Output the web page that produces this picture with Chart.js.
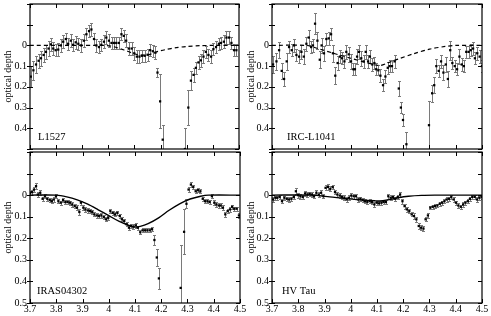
<!DOCTYPE html>
<html>
<head>
<meta charset="utf-8">
<script src="https://cdn.jsdelivr.net/npm/chart.js@4.4.1/dist/chart.umd.min.js"></script>
<style>
  html, body { margin: 0; padding: 0; background: #fff; }
  body { width: 491px; height: 316px; position: relative; overflow: hidden; }
  canvas { position: absolute; }
</style>
</head>
<body>
<canvas id="tl" width="243" height="153" style="left:0;top:0"></canvas>
<canvas id="tr" width="248" height="153" style="left:243px;top:0"></canvas>
<canvas id="bl" width="252" height="171" style="left:0;top:145px"></canvas>
<canvas id="br" width="248" height="171" style="left:243px;top:145px"></canvas>
<script>
// [wavelength (micron), optical depth, error]
const l1527 = [
  [3.703,0.151,0.05],[3.713,0.120,0.045],[3.723,0.092,0.04],[3.733,0.074,0.035],[3.742,0.062,0.035],
  [3.752,0.046,0.035],[3.761,0.031,0.035],[3.771,0.015,0.035],[3.780,-0.005,0.03],[3.789,0.015,0.03],
  [3.798,0.023,0.03],[3.808,0.020,0.03],[3.818,0.000,0.03],[3.827,-0.018,0.03],[3.837,-0.031,0.03],
  [3.846,-0.008,0.03],[3.856,-0.023,0.03],[3.865,-0.003,0.03],[3.875,-0.015,0.03],[3.885,-0.008,0.03],
  [3.896,0.000,0.03],[3.906,-0.023,0.03],[3.916,-0.054,0.03],[3.926,-0.069,0.03],[3.935,-0.077,0.03],
  [3.945,-0.031,0.03],[3.954,0.000,0.03],[3.964,0.008,0.03],[3.973,-0.003,0.03],[3.983,-0.018,0.03],
  [3.992,-0.038,0.03],[4.002,-0.023,0.03],[4.012,-0.012,0.03],[4.021,-0.012,0.03],[4.030,-0.012,0.03],
  [4.040,-0.012,0.03],[4.050,-0.054,0.03],[4.059,-0.046,0.03],[4.068,-0.023,0.03],[4.078,0.015,0.03],
  [4.089,0.015,0.03],[4.099,0.038,0.03],[4.109,0.054,0.03],[4.119,0.054,0.03],[4.129,0.050,0.03],
  [4.139,0.050,0.03],[4.150,0.045,0.03],[4.160,0.023,0.03],[4.170,0.028,0.03],[4.180,0.035,0.03],
  [4.188,0.131,0.02],[4.198,0.270,0.13],[4.208,0.455,0.07],
  [4.293,0.500,0.1],[4.306,0.300,0.085],[4.316,0.170,0.045],[4.326,0.142,0.035],[4.335,0.108,0.03],
  [4.345,0.082,0.03],[4.354,0.072,0.03],[4.364,0.054,0.03],[4.373,0.031,0.03],[4.383,0.046,0.03],
  [4.393,0.054,0.03],[4.402,0.018,0.03],[4.412,0.008,0.03],[4.423,-0.008,0.03],[4.431,-0.012,0.03],
  [4.442,-0.018,0.03],[4.452,-0.038,0.03],[4.462,-0.038,0.03],[4.471,-0.012,0.03],[4.481,0.023,0.03],
  [4.490,0.023,0.03]
];
const l1527Model = [
  [3.70,0],[3.98,0],[4.02,0.006],[4.06,0.022],[4.09,0.036],[4.12,0.046],[4.15,0.046],[4.175,0.036],
  [4.19,0.029],[4.22,0.020],[4.26,0.011],[4.30,0.005],[4.35,0.001],[4.40,0],[4.50,0]
];

const irc1041 = [
  [3.704,0.092,0.04],[3.717,0.077,0.04],[3.727,0.023,0.04],[3.737,0.123,0.04],[3.746,0.162,0.035],
  [3.756,0.077,0.04],[3.765,0.008,0.03],[3.775,0.023,0.03],[3.784,0.000,0.03],[3.793,0.046,0.03],
  [3.803,0.054,0.03],[3.812,0.031,0.035],[3.821,0.054,0.035],[3.831,-0.008,0.035],[3.840,-0.038,0.035],
  [3.849,0.008,0.03],[3.856,0.000,0.03],[3.864,-0.105,0.05],[3.873,-0.023,0.04],[3.882,0.069,0.04],
  [3.889,0.000,0.035],[3.898,0.038,0.035],[3.907,-0.031,0.03],[3.916,-0.034,0.03],[3.925,-0.054,0.03],
  [3.932,0.038,0.04],[3.941,0.146,0.04],[3.950,0.085,0.035],[3.959,0.054,0.03],[3.967,0.062,0.03],
  [3.976,0.077,0.03],[3.983,0.031,0.035],[3.992,0.043,0.035],[4.001,0.077,0.035],[4.010,0.115,0.03],
  [4.016,0.115,0.03],[4.024,0.054,0.035],[4.031,0.031,0.035],[4.040,0.062,0.035],[4.049,0.077,0.03],
  [4.057,0.031,0.035],[4.066,0.077,0.03],[4.073,0.054,0.03],[4.082,0.092,0.03],[4.090,0.085,0.03],
  [4.097,0.115,0.03],[4.105,0.120,0.025],[4.113,0.146,0.03],[4.123,0.192,0.03],[4.132,0.150,0.03],
  [4.141,0.108,0.03],[4.148,0.100,0.03],[4.157,0.100,0.03],[4.167,0.077,0.03],[4.183,0.208,0.035],
  [4.191,0.300,0.025],[4.199,0.360,0.03],[4.212,0.477,0.06],
  [4.298,0.385,0.115],[4.310,0.231,0.04],[4.318,0.192,0.04],[4.326,0.100,0.035],[4.335,0.123,0.03],
  [4.344,0.077,0.03],[4.353,0.131,0.035],[4.362,0.092,0.035],[4.370,0.162,0.04],[4.379,0.023,0.045],
  [4.387,0.085,0.03],[4.396,0.100,0.03],[4.405,0.115,0.03],[4.414,0.054,0.035],[4.423,0.092,0.03],
  [4.431,0.100,0.03],[4.440,0.031,0.03],[4.449,0.031,0.03],[4.457,0.023,0.03],[4.466,0.015,0.03],
  [4.473,0.062,0.03],[4.482,0.038,0.03],[4.491,0.054,0.03],[4.500,0.100,0.03]
];
const irc1041Model = [
  [3.70,0],[3.83,0],[3.88,0.017],[3.94,0.040],[4.00,0.062],[4.06,0.083],[4.11,0.097],[4.14,0.085],
  [4.18,0.066],[4.24,0.040],[4.30,0.018],[4.36,0.005],[4.40,0],[4.50,0]
];

const iras04302 = [
  [3.700,-0.011,0.01],[3.708,-0.014,0.012],[3.715,-0.026,0.012],[3.723,-0.042,0.012],[3.730,-0.003,0.012],
  [3.739,-0.011,0.012],[3.748,0.017,0.01],[3.757,0.005,0.01],[3.766,0.017,0.01],[3.775,0.023,0.01],
  [3.783,0.028,0.01],[3.790,0.020,0.01],[3.799,0.005,0.01],[3.808,0.028,0.01],[3.817,0.035,0.01],
  [3.826,0.023,0.01],[3.835,0.032,0.01],[3.843,0.032,0.01],[3.852,0.035,0.01],[3.861,0.043,0.01],
  [3.870,0.051,0.01],[3.879,0.058,0.01],[3.888,0.078,0.015],[3.894,0.035,0.01],[3.903,0.058,0.01],
  [3.911,0.066,0.01],[3.920,0.071,0.01],[3.929,0.074,0.01],[3.937,0.078,0.01],[3.945,0.089,0.01],
  [3.954,0.094,0.01],[3.963,0.097,0.01],[3.972,0.094,0.01],[3.981,0.102,0.01],[3.990,0.112,0.01],
  [3.998,0.105,0.01],[4.006,0.074,0.01],[4.015,0.082,0.01],[4.024,0.089,0.01],[4.033,0.082,0.01],
  [4.042,0.097,0.01],[4.050,0.112,0.01],[4.059,0.120,0.01],[4.068,0.135,0.01],[4.077,0.151,0.01],
  [4.085,0.143,0.01],[4.094,0.146,0.01],[4.103,0.140,0.01],[4.111,0.151,0.01],[4.120,0.172,0.01],
  [4.129,0.163,0.01],[4.138,0.163,0.01],[4.147,0.163,0.01],[4.156,0.163,0.01],[4.165,0.158,0.01],
  [4.174,0.208,0.025],[4.183,0.289,0.04],[4.191,0.386,0.05],
  [4.274,0.430,0.2],[4.287,0.170,0.105],[4.296,0.040,0.02],[4.304,-0.026,0.012],[4.313,-0.049,0.012],
  [4.322,-0.038,0.01],[4.331,-0.018,0.01],[4.340,-0.023,0.01],[4.349,-0.018,0.01],[4.358,0.017,0.01],
  [4.367,0.028,0.01],[4.376,0.028,0.01],[4.384,0.032,0.01],[4.393,0.005,0.01],[4.402,0.035,0.012],
  [4.410,0.043,0.01],[4.419,0.048,0.01],[4.426,0.048,0.01],[4.435,0.058,0.01],[4.444,0.089,0.012],
  [4.453,0.074,0.01],[4.462,0.066,0.01],[4.470,0.054,0.01],[4.478,0.063,0.01],[4.487,0.063,0.01],
  [4.496,0.094,0.012]
];
const iras04302Model = [
  [3.70,0],[3.80,0],[3.84,0.008],[3.88,0.022],[3.92,0.042],[3.96,0.068],[4.00,0.095],[4.04,0.122],
  [4.08,0.142],[4.10,0.148],[4.12,0.145],[4.15,0.132],[4.19,0.105],[4.23,0.070],[4.27,0.040],
  [4.31,0.018],[4.35,0.005],[4.38,0],[4.50,0]
];

const hvTau = [
  [3.704,0.020,0.012],[3.713,0.012,0.01],[3.720,0.012,0.01],[3.729,0.009,0.01],[3.738,0.028,0.01],
  [3.747,0.012,0.01],[3.756,0.017,0.01],[3.765,0.020,0.01],[3.774,0.017,0.01],[3.783,0.009,0.01],
  [3.791,-0.018,0.015],[3.799,0.000,0.012],[3.808,0.005,0.012],[3.817,0.009,0.01],[3.826,-0.008,0.01],
  [3.835,-0.003,0.01],[3.843,-0.006,0.01],[3.852,-0.003,0.012],[3.860,0.005,0.01],[3.869,-0.011,0.012],
  [3.878,-0.003,0.01],[3.887,-0.011,0.012],[3.896,0.005,0.01],[3.904,-0.034,0.012],[3.913,-0.038,0.012],
  [3.922,-0.029,0.012],[3.931,-0.037,0.01],[3.940,-0.014,0.01],[3.949,-0.003,0.01],[3.958,0.002,0.01],
  [3.967,0.008,0.01],[3.976,0.012,0.012],[3.984,0.020,0.01],[3.993,0.012,0.012],[4.002,0.002,0.012],
  [4.011,0.005,0.012],[4.020,0.005,0.012],[4.029,0.020,0.01],[4.037,0.017,0.01],[4.045,0.023,0.01],
  [4.054,0.028,0.01],[4.063,0.031,0.01],[4.072,0.028,0.01],[4.081,0.032,0.01],[4.090,0.043,0.01],
  [4.099,0.035,0.01],[4.108,0.038,0.01],[4.117,0.035,0.01],[4.125,0.032,0.01],[4.134,0.032,0.01],
  [4.143,0.005,0.012],[4.152,0.012,0.012],[4.161,0.009,0.01],[4.170,0.017,0.01],[4.179,0.009,0.01],
  [4.188,-0.003,0.01],[4.197,0.028,0.012],[4.205,0.051,0.012],[4.214,0.066,0.012],[4.223,0.074,0.01],
  [4.232,0.089,0.01],[4.241,0.097,0.012],[4.250,0.112,0.012],[4.259,0.143,0.012],[4.268,0.151,0.012],
  [4.277,0.155,0.012],[4.285,0.112,0.01],[4.294,0.094,0.01],[4.303,0.058,0.008],[4.312,0.054,0.008],
  [4.321,0.051,0.008],[4.330,0.048,0.008],[4.339,0.040,0.01],[4.348,0.035,0.01],[4.357,0.028,0.01],
  [4.365,0.020,0.01],[4.374,0.017,0.01],[4.383,0.009,0.01],[4.392,0.020,0.01],[4.401,0.035,0.01],
  [4.410,0.048,0.01],[4.419,0.054,0.01],[4.428,0.043,0.01],[4.437,0.035,0.01],[4.446,0.028,0.01],
  [4.454,0.017,0.01],[4.463,0.008,0.01],[4.472,0.008,0.01],[4.481,0.020,0.01],[4.490,0.012,0.01],
  [4.499,0.009,0.01]
];
const hvTauModel = [
  [3.70,0],[3.85,0],[3.92,0.008],[3.98,0.016],[4.04,0.022],[4.09,0.026],[4.11,0.027],[4.14,0.022],
  [4.18,0.012],[4.22,0.005],[4.27,0.001],[4.32,0],[4.50,0]
];

const FONT = "'Liberation Serif', 'Times New Roman', serif";
Chart.defaults.font.family = FONT;
Chart.defaults.font.size = 10;
Chart.defaults.color = "#000";

// vertical error bars with small caps, drawn under the points
const errorBars = {
  id: "errorBars",
  beforeDatasetsDraw(chart) {
    const { ctx, chartArea: a, scales: { x, y } } = chart;
    ctx.save();
    ctx.beginPath();
    ctx.rect(a.left, a.top, a.width, a.height);
    ctx.clip();
    ctx.strokeStyle = "#7a7a7a";
    ctx.lineWidth = 1;
    chart.data.datasets.forEach(ds => {
      if (!ds.errors) return;
      ds.data.forEach((p, i) => {
        const px = Math.round(x.getPixelForValue(p.x)) + 0.5;
        const y1 = Math.round(y.getPixelForValue(p.y - ds.errors[i])) + 0.5;
        const y2 = Math.round(y.getPixelForValue(p.y + ds.errors[i])) + 0.5;
        ctx.beginPath();
        ctx.moveTo(px, y1); ctx.lineTo(px, y2);
        ctx.moveTo(px - 1.5, y1); ctx.lineTo(px + 1.5, y1);
        ctx.moveTo(px - 1.5, y2); ctx.lineTo(px + 1.5, y2);
        ctx.stroke();
      });
    });
    ctx.restore();
  }
};

// box around the plot, ticks on all four sides, source name
const panelFrame = {
  id: "panelFrame",
  afterDraw(chart, args, opts) {
    const { ctx, chartArea: a, scales: { x, y } } = chart;
    ctx.save();
    ctx.strokeStyle = "#000";
    ctx.lineWidth = 1.2;
    ctx.strokeRect(a.left, a.top, a.width, a.height);
    ctx.lineWidth = 1;
    ctx.beginPath();
    x.ticks.forEach(t => {
      const px = Math.round(x.getPixelForValue(t.value)) + 0.5;
      ctx.moveTo(px, a.top); ctx.lineTo(px, a.top + 4);
      ctx.moveTo(px, a.bottom); ctx.lineTo(px, a.bottom - 4);
    });
    y.ticks.forEach(t => {
      const py = Math.round(y.getPixelForValue(t.value)) + 0.5;
      ctx.moveTo(a.left - 3, py); ctx.lineTo(a.left + 3, py);
      ctx.moveTo(a.right, py); ctx.lineTo(a.right - 4, py);
    });
    ctx.stroke();
    ctx.fillStyle = "#000";
    ctx.font = "10.5px " + FONT;
    ctx.textBaseline = "middle";
    ctx.fillText(opts.name, a.left + opts.dx, a.bottom - 12);
    ctx.restore();
  }
};

function makePanel(id, points, model, opts) {
  const ctx = document.getElementById(id);
  return new Chart(ctx, {
    type: "scatter",
    data: {
      datasets: [{
        data: points.map(p => ({ x: p[0], y: p[1] })),
        errors: points.map(p => p[2]),
        pointStyle: "rect",
        pointRadius: 1.6,
        pointBorderWidth: 0,
        backgroundColor: "#000",
        showLine: false
      }, {
        type: "line",
        data: model.map(p => ({ x: p[0], y: p[1] })),
        borderColor: "#000",
        borderWidth: opts.dashed ? 1.2 : 1.4,
        borderDash: opts.dashed ? [4, 3] : [],
        pointRadius: 0,
        tension: 0.3,
        fill: false
      }]
    },
    options: {
      responsive: false,
      animation: false,
      events: [],
      layout: { padding: opts.padding },
      plugins: {
        legend: { display: false },
        tooltip: { enabled: false },
        panelFrame: { name: opts.name, dx: opts.dx }
      },
      scales: {
        x: {
          type: "linear",
          min: 3.7,
          max: 4.5,
          grid: { display: false, drawTicks: false },
          border: { display: false },
          ticks: {
            display: opts.showX,
            stepSize: 0.1,
            autoSkip: false,
            maxRotation: 0,
            padding: 0,
            callback: v => String(Math.round(v * 10) / 10)
          },
          afterFit: s => {
            s.height = opts.showX ? 13 : 0;
            s.paddingLeft = s.paddingRight = 0;
          }
        },
        y: {
          min: -0.2,
          max: 0.5,
          reverse: true,
          grid: { display: false, drawTicks: false },
          border: { display: false },
          title: { display: true, text: "optical depth", padding: { top: 2, bottom: 0 }, font: { size: 10 } },
          ticks: {
            stepSize: 0.1,
            autoSkip: false,
            padding: 3,
            callback: v => {
              const r = Math.round(v * 10) / 10;
              return (r < 0 || r > opts.maxLabel) ? "" : String(r);
            }
          },
          afterFit: s => {
            s.width = opts.yWidth;
            s.paddingTop = s.paddingBottom = 0;
          }
        }
      }
    },
    plugins: [errorBars, panelFrame]
  });
}

makePanel("tl", l1527, l1527Model, {
  name: "L1527", dx: 8, dashed: true, showX: false, maxLabel: 0.4, yWidth: 30,
  padding: { top: 1, right: 3, bottom: 1, left: 0 }
});
makePanel("tr", irc1041, irc1041Model, {
  name: "IRC-L1041", dx: 15, dashed: true, showX: false, maxLabel: 0.4, yWidth: 29,
  padding: { top: 1, right: 9, bottom: 1, left: 0 }
});
makePanel("bl", iras04302, iras04302Model, {
  name: "IRAS04302", dx: 7, dashed: false, showX: true, maxLabel: 0.5, yWidth: 30,
  padding: { top: 7, right: 12, bottom: 0, left: 0 }
});
makePanel("br", hvTau, hvTauModel, {
  name: "HV Tau", dx: 10, dashed: false, showX: true, maxLabel: 0.5, yWidth: 29,
  padding: { top: 7, right: 9, bottom: 0, left: 0 }
});
</script>
</body>
</html>
